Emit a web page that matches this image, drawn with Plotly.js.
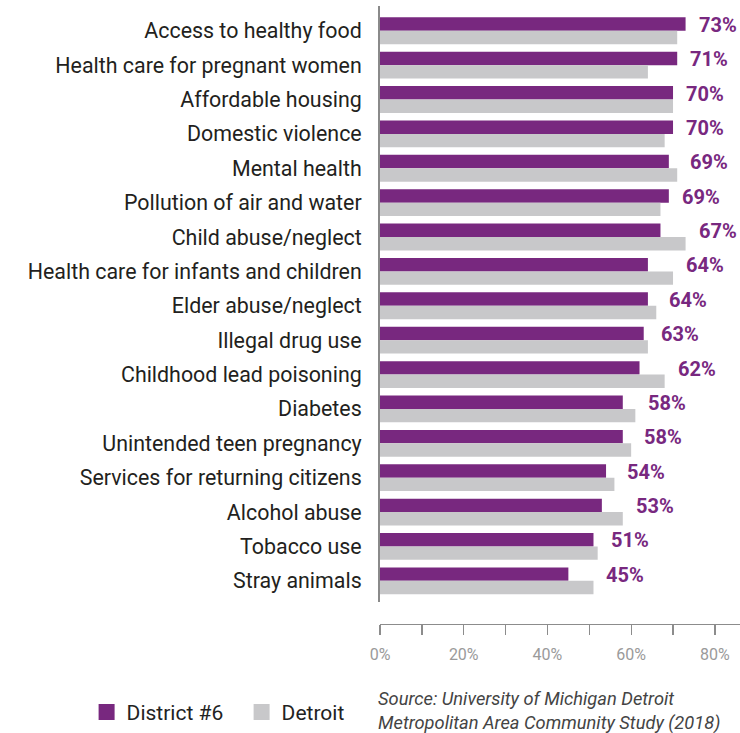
<!DOCTYPE html>
<html>
<head>
<meta charset="utf-8">
<script src="https://cdn.plot.ly/plotly-3.0.1.min.js"></script>
<style>html,body{margin:0;padding:0;background:#fff;}#chart{width:740px;height:733px;}</style>
</head>
<body>
<div id="chart"></div>
<script>
const categories = [
  "Access to healthy food",
  "Health care for pregnant women",
  "Affordable housing",
  "Domestic violence",
  "Mental health",
  "Pollution of air and water",
  "Child abuse/neglect",
  "Health care for infants and children",
  "Elder abuse/neglect",
  "Illegal drug use",
  "Childhood lead poisoning",
  "Diabetes",
  "Unintended teen pregnancy",
  "Services for returning citizens",
  "Alcohol abuse",
  "Tobacco use",
  "Stray animals"
];
const district6 = [73, 71, 70, 70, 69, 69, 67, 64, 64, 63, 62, 58, 58, 54, 53, 51, 45];
const detroit   = [71, 64, 70, 68, 71, 67, 73, 70, 66, 64, 68, 61, 60, 56, 58, 52, 51];
const tickValues = [0, 10, 20, 30, 40, 50, 60, 70, 80];
const tickLabels = ["0%", "", "20%", "", "40%", "", "60%", "", "80%"];
const seriesNames = ["District #6", "Detroit"];
const sourceText = "Source: University of Michigan Detroit<br>Metropolitan Area Community Study (2018)";

const PURPLE = "#78287f";
const GREY = "#c8c8ca";
const COLORS = [PURPLE, GREY];

const traces = [
  {type: "bar", orientation: "h", name: seriesNames[0], y: categories, x: district6,
   marker: {color: PURPLE}, hoverinfo: "none", showlegend: false},
  {type: "bar", orientation: "h", name: seriesNames[1], y: categories, x: detroit,
   marker: {color: GREY}, hoverinfo: "none", showlegend: false}
];
// legend entries (larger square swatches)
seriesNames.forEach((n, i) => traces.push({
  type: "scatter", mode: "markers", name: n, x: [null], y: [null],
  marker: {symbol: "square", size: 16, color: COLORS[i]}, hoverinfo: "none", showlegend: true
}));

const annotations = categories.map((c, i) => ({
  x: Math.max(district6[i], detroit[i]), y: c, xref: "x", yref: "y",
  text: "<b>" + district6[i] + "%</b>", showarrow: false,
  xanchor: "left", yanchor: "middle", xshift: 11, yshift: 6,
  font: {family: "Roboto, sans-serif", size: 20, color: PURPLE}
}));
annotations.push({
  xref: "paper", yref: "paper", x: 0, y: -0.101, xanchor: "left", yanchor: "top",
  xshift: -4, align: "left", showarrow: false, text: "<i>" + sourceText + "</i>",
  font: {family: "Roboto, sans-serif", size: 18.3, color: "#444"}
});

const layout = {
  width: 740, height: 733,
  margin: {l: 380, r: 0, t: 6, b: 105, pad: 0},
  paper_bgcolor: "#fff", plot_bgcolor: "#fff",
  barmode: "group", bargap: 0.22, bargroupgap: 0,
  showlegend: true,
  legend: {orientation: "h", x: -0.815, y: -0.143, xanchor: "left", yanchor: "middle",
           font: {family: "Roboto, sans-serif", size: 21, color: "#222"},
           itemsizing: "trace", entrywidth: 110, entrywidthmode: "pixels",
           traceorder: "normal"},
  xaxis: {range: [0, 86], anchor: "free", position: 0,
          tickvals: tickValues, ticktext: tickLabels,
          ticks: "outside", ticklen: 10, tickcolor: "#8c8c8c", tickwidth: 1.3,
          ticklabelstandoff: 5,
          showline: true, linecolor: "#8c8c8c", linewidth: 1.3,
          showgrid: false, zeroline: false,
          tickfont: {family: "Roboto, sans-serif", size: 16, color: "#9a9a9a"}},
  yaxis: {type: "category", range: [16.62, -0.72], autorange: false,
          domain: [0.0354, 1],
          showline: true, linecolor: "#8a8a8a", linewidth: 2,
          ticks: "", showgrid: false, zeroline: false,
          ticklabelstandoff: 12,
          tickfont: {family: "Roboto, sans-serif", size: 21.4, color: "#231f20"}},
  annotations: annotations
};

Plotly.newPlot("chart", traces, layout, {displayModeBar: false, staticPlot: true});
</script>
</body>
</html>
